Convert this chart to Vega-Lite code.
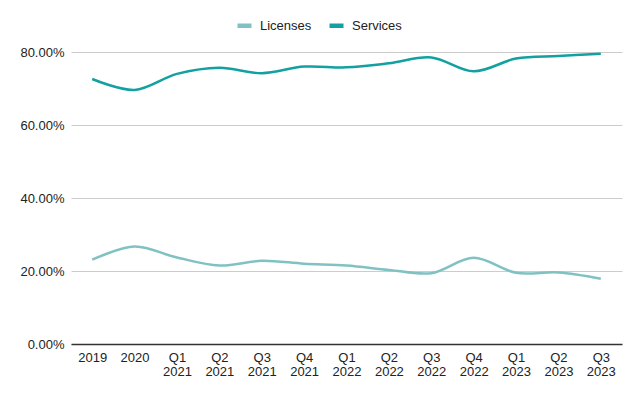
{
  "$schema": "https://vega.github.io/schema/vega-lite/v6.json",
  "width": 551,
  "height": 292,
  "padding": {"left": 71, "top": 52, "right": 18, "bottom": 52},
  "autosize": {"type": "none"},
  "background": "white",
  "config": {
    "view": {"stroke": null},
    "font": "Liberation Sans",
    "axis": {"labelFont": "Liberation Sans", "labelFontSize": 13, "labelColor": "#222222"},
    "legend": {"labelFont": "Liberation Sans", "labelFontSize": 13, "labelColor": "#222222"}
  },
  "data": {
    "values": [
      {"period": "2019", "order": 1, "series": "Licenses", "value": 0.231},
      {"period": "2020", "order": 2, "series": "Licenses", "value": 0.267},
      {"period": "Q1 2021", "order": 3, "series": "Licenses", "value": 0.237},
      {"period": "Q2 2021", "order": 4, "series": "Licenses", "value": 0.215},
      {"period": "Q3 2021", "order": 5, "series": "Licenses", "value": 0.228},
      {"period": "Q4 2021", "order": 6, "series": "Licenses", "value": 0.220},
      {"period": "Q1 2022", "order": 7, "series": "Licenses", "value": 0.215},
      {"period": "Q2 2022", "order": 8, "series": "Licenses", "value": 0.203},
      {"period": "Q3 2022", "order": 9, "series": "Licenses", "value": 0.194},
      {"period": "Q4 2022", "order": 10, "series": "Licenses", "value": 0.236},
      {"period": "Q1 2023", "order": 11, "series": "Licenses", "value": 0.195},
      {"period": "Q2 2023", "order": 12, "series": "Licenses", "value": 0.196},
      {"period": "Q3 2023", "order": 13, "series": "Licenses", "value": 0.179},
      {"period": "2019", "order": 1, "series": "Services", "value": 0.726},
      {"period": "2020", "order": 2, "series": "Services", "value": 0.696},
      {"period": "Q1 2021", "order": 3, "series": "Services", "value": 0.740},
      {"period": "Q2 2021", "order": 4, "series": "Services", "value": 0.757},
      {"period": "Q3 2021", "order": 5, "series": "Services", "value": 0.742},
      {"period": "Q4 2021", "order": 6, "series": "Services", "value": 0.760},
      {"period": "Q1 2022", "order": 7, "series": "Services", "value": 0.758},
      {"period": "Q2 2022", "order": 8, "series": "Services", "value": 0.769},
      {"period": "Q3 2022", "order": 9, "series": "Services", "value": 0.785},
      {"period": "Q4 2022", "order": 10, "series": "Services", "value": 0.747},
      {"period": "Q1 2023", "order": 11, "series": "Services", "value": 0.782},
      {"period": "Q2 2023", "order": 12, "series": "Services", "value": 0.789},
      {"period": "Q3 2023", "order": 13, "series": "Services", "value": 0.795}
    ]
  },
  "mark": {"type": "line", "interpolate": "catmull-rom", "strokeWidth": 2.5},
  "encoding": {
    "x": {
      "field": "period",
      "type": "ordinal",
      "sort": {"field": "order"},
      "scale": {"paddingInner": 0, "paddingOuter": 0.5},
      "axis": {
        "title": null,
        "labelAngle": 0,
        "ticks": false,
        "domain": true,
        "domainColor": "#333333",
        "domainWidth": 1.5,
        "labelPadding": 7,
        "labelLineHeight": 14,
        "labelExpr": "split(datum.label, ' ')"
      }
    },
    "y": {
      "field": "value",
      "type": "quantitative",
      "scale": {"domain": [0, 0.8], "nice": false},
      "axis": {
        "title": null,
        "format": ".2%",
        "values": [0, 0.2, 0.4, 0.6, 0.8],
        "domain": false,
        "ticks": false,
        "labelPadding": 7,
        "gridColor": "#cccccc",
        "gridWidth": 1
      }
    },
    "color": {
      "field": "series",
      "type": "nominal",
      "scale": {"domain": ["Licenses", "Services"], "range": ["#80c2c3", "#12a0a0"]},
      "legend": {
        "title": null,
        "orient": "none",
        "direction": "horizontal",
        "legendX": 164,
        "legendY": -36,
        "symbolType": "stroke",
        "symbolSize": 196,
        "symbolStrokeWidth": 4.5,
        "columnPadding": 8,
        "labelOffset": 6
      }
    }
  }
}
